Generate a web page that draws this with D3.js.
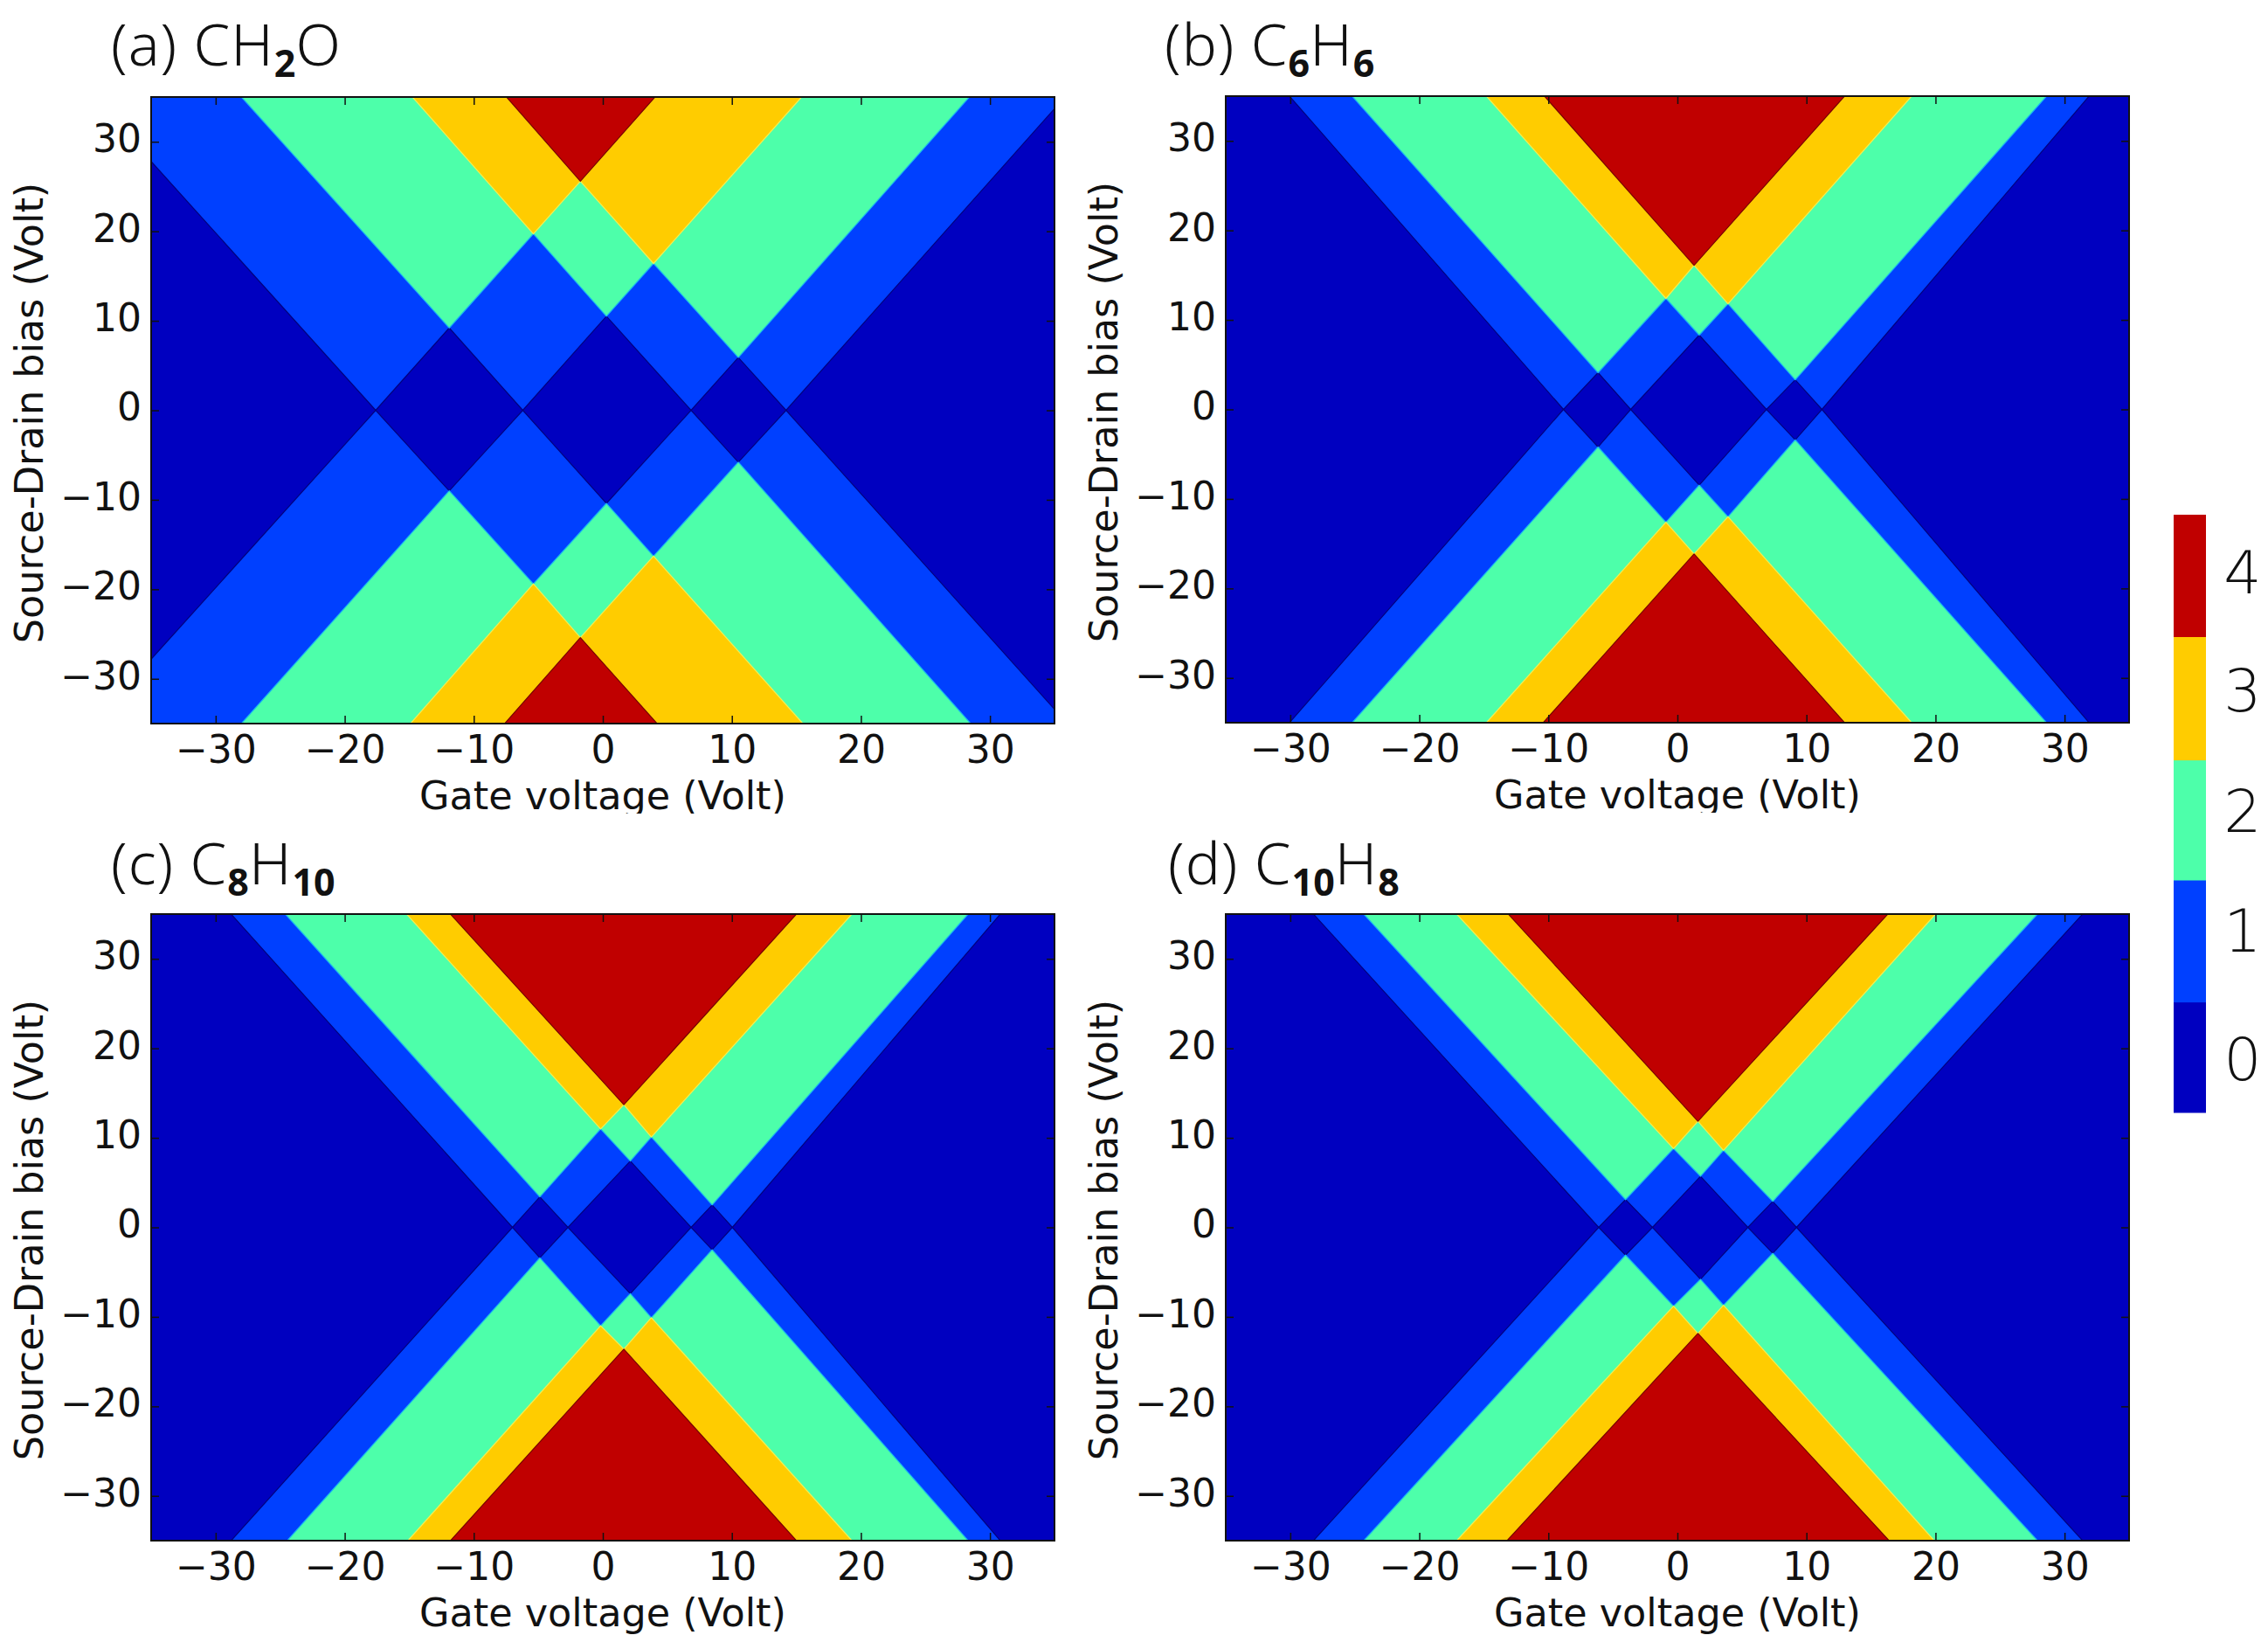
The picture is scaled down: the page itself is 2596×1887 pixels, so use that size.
<!DOCTYPE html>
<html>
<head>
<meta charset="utf-8">
<script src="https://cdn.jsdelivr.net/npm/d3@7/dist/d3.min.js"></script>
<style>
  html, body { margin: 0; padding: 0; background: #fff; }
  svg { display: block; }
  text { fill: #111; }
  .label, .tick text { font-family: "DejaVu Sans", sans-serif; }
  .title { font-family: "Noto Sans", sans-serif; font-weight: 300; font-size: 67px; letter-spacing: 1px; }
  .title .sub { font-weight: 700; font-size: 43px; letter-spacing: 0; }
</style>
</head>
<body>
<svg id="chart" width="2596" height="1887"></svg>
<script>
// colour levels and tick values
const levels = [0, 1, 2, 3, 4]
const levelColors = ["#0000c0", "#0040ff", "#4dffaa", "#ffcc00", "#c00000"]
const levelEdges = ["#000080", "#000080", "#19b8f0", "#f5ee50", "#7a0000"]
const gateTicks = [-30, -20, -10, 0, 10, 20, 30]
const biasTicks = [-30, -20, -10, 0, 10, 20, 30]

// outline of "count >= 1,2,3,4" as [gate, bias]
const upperA = [
  [[-35, 35], [-35, 27.8], [-17.6, 0], [-11.9, 9.2], [-6.2, 0], [0.28, 10.5], [6.84, 0], [10.5, 5.9], [14.2, 0], [35, 33.7], [35, 35]],
  [[-28, 35], [-11.9, 9.2], [-5.38, 19.7], [0.28, 10.5], [3.93, 16.4], [10.5, 5.9], [28.4, 35]],
  [[-14.75, 35], [-5.38, 19.7], [-1.74, 25.6], [3.93, 16.4], [15.4, 35]],
  [[-7.46, 35], [-1.74, 25.6], [4.04, 35]]
]
const lowerA = [
  [[-35, -35], [-35, -27.8], [-17.6, 0], [-11.9, -9], [-6.2, 0], [0.28, -10.4], [6.84, 0], [10.5, -5.8], [14.2, 0], [35, -33.4], [35, -35]],
  [[-28, -35], [-11.9, -9], [-5.38, -19.4], [0.28, -10.4], [3.93, -16.3], [10.5, -5.8], [28.5, -35]],
  [[-14.9, -35], [-5.38, -19.4], [-1.74, -25.4], [3.93, -16.3], [15.5, -35]],
  [[-7.6, -35], [-1.74, -25.4], [4.2, -35]]
]
const upperB = [
  [[-30.06, 35], [-8.83, 0], [-6.15, 4.1], [-3.62, 0], [1.69, 8.3], [6.9, 0], [9.13, 3.3], [11.2, 0], [31.9, 35]],
  [[-25.2, 35], [-6.15, 4.1], [-0.89, 12.4], [1.69, 8.3], [3.92, 11.8], [9.13, 3.3], [28.6, 35]],
  [[-14.8, 35], [-0.89, 12.4], [1.29, 16.1], [3.92, 11.8], [18.15, 35]],
  [[-10.3, 35], [1.29, 16.1], [12.95, 35]]
]
const lowerB = [
  [[-30.06, -35], [-8.83, 0], [-6.15, -4.2], [-3.62, 0], [1.69, -8.46], [6.9, 0], [9.13, -3.4], [11.2, 0], [31.9, -35]],
  [[-25.2, -35], [-6.15, -4.2], [-0.89, -12.6], [1.69, -8.46], [3.92, -12], [9.13, -3.4], [28.6, -35]],
  [[-14.8, -35], [-0.89, -12.6], [1.29, -16.15], [3.92, -12], [18.15, -35]],
  [[-10.4, -35], [1.29, -16.15], [12.95, -35]]
]
const upperC = [
  [[-28.8, 35], [-7, 0], [-4.88, 3.4], [-2.7, 0], [2.13, 7.4], [6.84, 0], [8.47, 2.5], [10.04, 0], [30.8, 35]],
  [[-24.6, 35], [-4.88, 3.4], [-0.17, 11], [2.13, 7.4], [3.76, 10.1], [8.47, 2.5], [28.3, 35]],
  [[-15.2, 35], [-0.17, 11], [1.63, 13.7], [3.76, 10.1], [19.3, 35]],
  [[-11.8, 35], [1.63, 13.7], [15, 35]]
]
const lowerC = [
  [[-28.8, -35], [-7, 0], [-4.88, -3.4], [-2.7, 0], [2.13, -7.4], [6.84, 0], [8.47, -2.5], [10.04, 0], [30.8, -35]],
  [[-24.45, -35], [-4.88, -3.4], [-0.17, -11], [2.13, -7.4], [3.76, -10.1], [8.47, -2.5], [28.3, -35]],
  [[-15.1, -35], [-0.17, -11], [1.63, -13.6], [3.76, -10.1], [19.3, -35]],
  [[-11.8, -35], [1.63, -13.6], [15, -35]]
]
const upperD = [
  [[-28.2, 35], [-6.1, 0], [-4.02, 3.1], [-1.93, 0], [1.79, 5.7], [5.46, 0], [7.39, 2.9], [9.23, 0], [31.4, 35]],
  [[-24.3, 35], [-4.02, 3.1], [-0.3, 8.8], [1.79, 5.7], [3.57, 8.6], [7.39, 2.9], [27.9, 35]],
  [[-17.1, 35], [-0.3, 8.8], [1.59, 11.85], [3.57, 8.6], [20, 35]],
  [[-13.1, 35], [1.59, 11.85], [16.3, 35]]
]
const lowerD = [
  [[-28.2, -35], [-6.1, 0], [-4.02, -3.1], [-1.93, 0], [1.79, -5.8], [5.46, 0], [7.39, -2.9], [9.23, 0], [31.4, -35]],
  [[-24.3, -35], [-4.02, -3.1], [-0.3, -8.8], [1.79, -5.8], [3.57, -8.7], [7.39, -2.9], [27.9, -35]],
  [[-17.1, -35], [-0.3, -8.8], [1.59, -11.85], [3.57, -8.7], [19.9, -35]],
  [[-13.2, -35], [1.59, -11.85], [16.4, -35]]
]

const panelTitles = [
  ["(a) CH", "2", "O"],
  ["(b) C", "6", "H", "6"],
  ["(c) C", "8", "H", "10"],
  ["(d) C", "10", "H", "8"]
]
const panelOutlines = [[upperA, lowerA], [upperB, lowerB], [upperC, lowerC], [upperD, lowerD]]

// layout
const w = 1034
const h = 717
const panelPos = [[173, 111], [1403, 110], [173, 1046], [1403, 1046]]
const titlePos = [[127, 75], [1333, 75], [127, 1012], [1337, 1012]]
const barEdgeY = [1273, 1146.6, 1007, 869.6, 728.5, 589]
const barLabelY = [1212, 1065, 928, 790, 655]

const svg = d3.select("#chart")

const xScale = d3.scaleLinear().domain([-35, 35]).range([0, w])
const yScale = d3.scaleLinear().domain([-35, 35]).range([h, 0])
const outlineLine = d3.line().x(d => xScale(d[0])).y(d => yScale(d[1]))

const styleAxis = (g) => {
  g.select(".domain").remove()
  g.selectAll(".tick line").attr("stroke", "#111").attr("stroke-width", 1.5)
  g.selectAll(".tick text").attr("font-size", 44).attr("fill", "#111")
}

panelOutlines.forEach((outlines, p) => {
  const g = svg.append("g").attr("transform", `translate(${panelPos[p][0]},${panelPos[p][1]})`)

  g.append("defs").append("clipPath").attr("id", "clip" + p)
    .append("rect").attr("width", w).attr("height", h)

  const plot = g.append("g").attr("clip-path", `url(#clip${p})`)
  plot.append("rect").attr("width", w).attr("height", h).attr("fill", levelColors[0])

  // each half is painted from count >= 1 up to count >= 4
  outlines.forEach(half => {
    half.forEach((outline, i) => {
      plot.append("path")
        .attr("d", outlineLine(outline) + "Z")
        .attr("fill", levelColors[i + 1])
        .attr("stroke", levelEdges[i + 1])
        .attr("stroke-width", 1.2)
        .attr("stroke-linejoin", "round")
    })
  })

  g.append("g").attr("transform", `translate(0,${h})`)
    .call(d3.axisBottom(xScale).tickValues(gateTicks).tickSizeOuter(0).tickSizeInner(-9).tickPadding(14))
    .call(styleAxis)
  g.append("g")
    .call(d3.axisLeft(yScale).tickValues(biasTicks).tickSizeOuter(0).tickSizeInner(-9).tickPadding(11))
    .call(styleAxis)
    .selectAll(".tick text").attr("dy", "0.26em")
  g.append("g")
    .call(d3.axisTop(xScale).tickValues(gateTicks).tickSizeOuter(0).tickSizeInner(-9).tickFormat(""))
    .call(styleAxis)
  g.append("g").attr("transform", `translate(${w},0)`)
    .call(d3.axisRight(yScale).tickValues(biasTicks).tickSizeOuter(0).tickSizeInner(-9).tickFormat(""))
    .call(styleAxis)

  g.append("rect").attr("width", w).attr("height", h)
    .attr("fill", "none").attr("stroke", "#111").attr("stroke-width", 2)

  // the top row has its descenders cut off in the original figure
  g.append("clipPath").attr("id", "labelClip" + p)
    .append("rect").attr("y", h + 40).attr("width", w).attr("height", p < 2 ? 63 : 100)

  g.append("text").attr("class", "label")
    .attr("clip-path", `url(#labelClip${p})`)
    .attr("x", w / 2).attr("y", h + 97.5)
    .attr("text-anchor", "middle").attr("font-size", 44.5)
    .text("Gate voltage (Volt)")

  g.append("text").attr("class", "label")
    .attr("transform", `translate(-124,${h / 2 + 3}) rotate(-90)`)
    .attr("text-anchor", "middle").attr("font-size", 44.5)
    .text("Source-Drain bias (Volt)")

  // chemical formula with bold subscripts
  const title = svg.append("text").attr("class", "title")
    .attr("x", titlePos[p][0]).attr("y", titlePos[p][1])
  panelTitles[p].forEach((part, i) => {
    const isSub = i % 2 === 1
    const wasSub = i > 0 && !isSub
    title.append("tspan")
      .attr("class", isSub ? "sub" : null)
      .attr("dy", isSub ? 13 : wasSub ? -13 : 0)
      .text(part)
  })
})

// colour bar
const bar = svg.append("g")
bar.selectAll("rect").data(levels).join("rect")
  .attr("x", 2488).attr("width", 37)
  .attr("y", d => barEdgeY[d + 1]).attr("height", d => barEdgeY[d] - barEdgeY[d + 1] + 0.5)
  .attr("fill", d => levelColors[d])
bar.selectAll("text").data(levels).join("text")
  .attr("class", "label")
  .attr("x", 2567).attr("y", d => barLabelY[d] + 24)
  .attr("text-anchor", "middle").attr("font-size", 68).attr("font-weight", 300)
  .text(d => d)
</script>
</body>
</html>
